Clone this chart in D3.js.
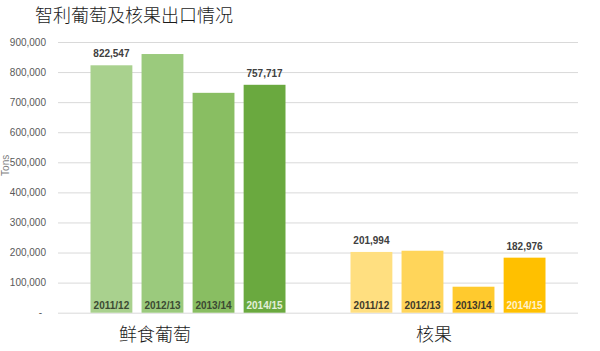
<!DOCTYPE html>
<html>
<head>
<meta charset="utf-8">
<script src="https://cdn.jsdelivr.net/npm/d3@7"></script>
<style>
  html, body { margin: 0; padding: 0; background: #fff; }
  svg { display: block; }
</style>
</head>
<body>
<div id="chart"></div>
<script>
const title = "智利葡萄及核果出口情况";
const categories = ["鲜食葡萄", "核果"];
const seasons = ["2011/12", "2012/13", "2013/14", "2014/15"];
const grapeValues = [822547, 860000, 731000, 757717];
const nutValues = [201994, 206000, 86400, 182976];
const labeledSeasons = ["2011/12", "2014/15"];
const yTicks = [0, 100000, 200000, 300000, 400000, 500000, 600000, 700000, 800000, 900000];
const yLabel = "Tons";

const W = 600, H = 351;
const margin = { left: 58, right: 22, top: 42, bottom: 38.3 };
const colors = {
  "鲜食葡萄": ["#a9d18e", "#9bca7d", "#89be62", "#6aa93f"],
  "核果": ["#ffdf80", "#ffd55a", "#ffca2e", "#ffc000"]
};
const innerText = {
  "鲜食葡萄": ["#3c4a33", "#3c4a33", "#3c4a33", "#e2efda"],
  "核果": ["#3f3a2a", "#3f3a2a", "#3f3a2a", "#fff2cc"]
};
const catLabelShift = [-33, -14];

const series = { "鲜食葡萄": grapeValues, "核果": nutValues };

const svg = d3.select("#chart").append("svg").attr("width", W).attr("height", H);

const x0 = d3.scaleBand().domain(categories).range([margin.left, W - margin.right]).padding(0);
const x1 = d3.scaleBand().domain(seasons)
  .range([32.5, x0.bandwidth() - 32.5]).paddingInner(0.18).paddingOuter(0);
const y = d3.scaleLinear().domain([0, 900000]).range([H - margin.bottom, margin.top]);

// gridlines
const grid = svg.append("g").attr("transform", `translate(${margin.left},0)`)
  .call(d3.axisLeft(y).tickValues(yTicks).tickSize(-(W - margin.left - margin.right)).tickFormat(""));
grid.select(".domain").remove();
grid.selectAll("line").attr("stroke", "#d9d9d9").attr("stroke-width", 1);

// y axis labels
const ya = svg.append("g").attr("transform", `translate(${margin.left},0)`)
  .call(d3.axisLeft(y).tickValues(yTicks).tickSize(0).tickPadding(12)
    .tickFormat(d => d === 0 ? "-" : d3.format(",")(d)));
ya.select(".domain").remove();
ya.selectAll("text").attr("fill", "#595959").attr("font-family", "Liberation Sans, Arial, sans-serif")
  .attr("font-size", 10);
ya.selectAll("text").filter(d => d === 0).attr("dx", -4);

svg.append("text").attr("transform", `translate(5,${y(490000)}) rotate(-90)`)
  .attr("text-anchor", "middle").attr("dy", "0.35em")
  .attr("fill", "#7f7f7f").attr("font-family", "Liberation Sans, Arial, sans-serif").attr("font-size", 10)
  .text(yLabel);

// bars
categories.forEach((cat, ci) => {
  const g = svg.append("g").attr("transform", `translate(${x0(cat)},0)`);
  const vals = series[cat];
  seasons.forEach((s, i) => {
    const v = vals[i];
    g.append("rect").attr("x", x1(s)).attr("y", y(v)).attr("width", x1.bandwidth())
      .attr("height", y(0) - y(v)).attr("fill", colors[cat][i]);
    g.append("text").attr("x", x1(s) + x1.bandwidth() / 2).attr("y", y(0) - 3.5)
      .attr("text-anchor", "middle").attr("font-family", "Liberation Sans, Arial, sans-serif")
      .attr("font-weight", "bold").attr("font-size", 10).attr("fill", innerText[cat][i]).text(s);
    if (labeledSeasons.includes(s)) {
      g.append("text").attr("x", x1(s) + x1.bandwidth() / 2).attr("y", y(v) - 8)
        .attr("text-anchor", "middle").attr("font-family", "Liberation Sans, Arial, sans-serif")
        .attr("font-weight", "bold").attr("font-size", 10).attr("fill", "#404040")
        .text(d3.format(",")(v));
    }
  });
  svg.append("text").attr("x", x0(cat) + x0.bandwidth() / 2 + catLabelShift[ci]).attr("y", 341)
    .attr("text-anchor", "middle").attr("font-family", "Noto Sans CJK SC, sans-serif")
    .attr("font-weight", 300).attr("font-size", 18).attr("fill", "#1a1a1a").text(cat);
});

svg.append("text").attr("x", 35).attr("y", 22)
  .attr("font-family", "Noto Sans CJK SC, sans-serif").attr("font-weight", 300)
  .attr("font-size", 18).attr("fill", "#1a1a1a").text(title);
</script>
</body>
</html>
